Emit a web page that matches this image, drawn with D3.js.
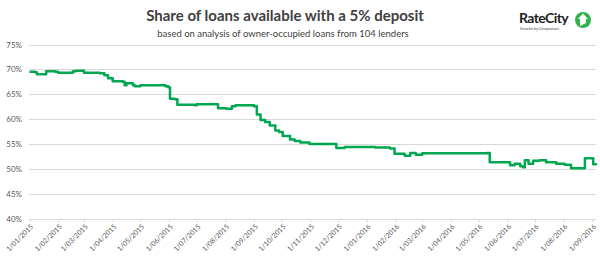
<!DOCTYPE html>
<html>
<head>
<meta charset="utf-8">
<title>Share of loans available with a 5% deposit</title>
<script src="https://cdn.jsdelivr.net/npm/d3@7"></script>
<style>
  body { margin: 0; background: #fff; }
  text { font-family: Lato, "Open Sans", sans-serif; }
</style>
</head>
<body>
<div id="chart"></div>
<script>
  const width = 600
  const height = 263

  // data
  const dates = [
    "2015-01-01", "2015-01-07", "2015-01-09", "2015-01-17", "2015-01-19", "2015-01-29",
    "2015-02-01", "2015-02-14", "2015-02-17", "2015-02-20", "2015-02-27", "2015-03-01",
    "2015-03-18", "2015-03-23", "2015-03-27", "2015-04-01", "2015-04-12", "2015-04-14",
    "2015-04-16", "2015-04-23", "2015-04-25", "2015-05-01", "2015-05-25", "2015-05-28",
    "2015-05-31", "2015-06-02", "2015-06-07", "2015-06-10", "2015-06-29", "2015-07-01",
    "2015-07-10", "2015-07-22", "2015-07-24", "2015-08-02", "2015-08-08", "2015-08-12",
    "2015-09-01", "2015-09-04", "2015-09-08", "2015-09-13", "2015-09-18", "2015-09-24",
    "2015-09-28", "2015-10-02", "2015-10-10", "2015-10-15", "2015-10-21", "2015-10-31",
    "2015-11-22", "2015-11-29", "2015-12-08", "2016-01-10", "2016-01-26", "2016-01-31",
    "2016-02-11", "2016-02-17", "2016-02-23", "2016-02-28", "2016-03-01", "2016-05-08",
    "2016-05-10", "2016-05-13", "2016-05-29", "2016-06-04", "2016-06-09", "2016-06-15",
    "2016-06-18", "2016-06-20", "2016-06-24", "2016-06-29", "2016-07-06", "2016-07-13",
    "2016-07-24", "2016-08-02", "2016-08-09", "2016-08-22", "2016-08-24", "2016-08-31",
    "2016-09-02", "2016-09-05"
  ]
  const shares = [
    69.5, 69.4, 69.0, 69.0, 69.6, 69.5,
    69.3, 69.3, 69.6, 69.7, 69.7, 69.3,
    69.2, 68.8, 68.2, 67.6, 67.5, 66.8,
    67.2, 66.8, 66.6, 66.8, 66.8, 66.6,
    66.4, 64.1, 64.0, 62.9, 62.8, 63.0,
    63.0, 63.0, 62.2, 62.1, 62.6, 62.8,
    62.6, 60.9, 59.8, 59.4, 58.7, 57.7,
    57.4, 56.6, 55.9, 55.6, 55.3, 55.0,
    55.0, 54.2, 54.4, 54.3, 54.1, 53.0,
    52.6, 53.2, 52.8, 52.8, 53.1, 53.1,
    53.2, 51.3, 51.3, 50.7, 51.0, 50.5,
    50.3, 51.7, 51.0, 51.6, 51.7, 51.3,
    51.0, 50.8, 50.1, 50.1, 52.1, 52.1,
    50.9, 50.7
  ]
  const yTicks = [40, 45, 50, 55, 60, 65, 70, 75]
  const monthTicks = [
    "2015-01-01", "2015-02-01", "2015-03-01", "2015-04-01", "2015-05-01", "2015-06-01",
    "2015-07-01", "2015-08-01", "2015-09-01", "2015-10-01", "2015-11-01", "2015-12-01",
    "2016-01-01", "2016-02-01", "2016-03-01", "2016-04-01", "2016-05-01", "2016-06-01",
    "2016-07-01", "2016-08-01", "2016-09-01"
  ]

  const parse = d3.utcParse("%Y-%m-%d")
  const series = dates.map((d, i) => ({ date: parse(d), value: shares[i] }))

  let x = d3.scaleUtc()
    .domain([parse("2015-01-01"), parse("2016-09-01")])
    .range([29.5, 592.3])
  let y = d3.scaleLinear()
    .domain([40, 75])
    .range([218.5, 44.5])

  let svg = d3.select("#chart")
    .append("svg")
    .attr("width", width)
    .attr("height", height)

  // title
  svg.append("text")
    .attr("x", 285).attr("y", 21)
    .attr("text-anchor", "middle")
    .attr("font-size", 15).attr("font-weight", "bold")
    .attr("fill", "#404040")
    .text("Share of loans available with a 5% deposit")
  svg.append("text")
    .attr("x", 283).attr("y", 37)
    .attr("text-anchor", "middle")
    .attr("font-size", 9.5)
    .attr("fill", "#404040")
    .text("based on analysis of owner-occupied loans from 104 lenders")

  // logo
  let logo = svg.append("g")
  logo.append("text")
    .attr("x", 519).attr("y", 23)
    .attr("font-size", 14).attr("font-weight", "bold")
    .attr("fill", "#222")
    .attr("letter-spacing", -0.6)
    .text("RateCity")
  logo.append("text")
    .attr("x", 520).attr("y", 30)
    .attr("font-size", 4).attr("font-style", "italic")
    .attr("fill", "#444")
    .text("Smarter by Comparison")
  logo.append("circle")
    .attr("cx", 583).attr("cy", 20).attr("r", 8)
    .attr("fill", "#2fb34a")
  logo.append("path")
    .attr("d", "M580,26 L580,19 L578,19 L583,13.5 L588,19 L586,19 L586,23 Z")
    .attr("fill", "#fff")

  // grid + y labels
  svg.append("g")
    .selectAll("line")
    .data(yTicks)
    .enter().append("line")
    .attr("x1", 29).attr("x2", 596)
    .attr("y1", d => Math.round(y(d)) + 0.5)
    .attr("y2", d => Math.round(y(d)) + 0.5)
    .attr("stroke", "#d9d9d9")
    .attr("stroke-width", 1)

  svg.append("g")
    .selectAll("text")
    .data(yTicks)
    .enter().append("text")
    .attr("x", 22)
    .attr("y", d => y(d) + 3)
    .attr("text-anchor", "end")
    .attr("font-size", 8)
    .attr("fill", "#595959")
    .text(d => d + "%")

  // x axis
  const tickDates = monthTicks.map(parse)
  const fmt = d => d3.utcFormat("%-d/%m/%Y")(d)
  let xAxis = svg.append("g")
    .attr("transform", "translate(0," + (Math.round(y(40)) + 0.5) + ")")
    .call(d3.axisBottom(x).tickValues(tickDates).tickSize(3).tickFormat(fmt))
  xAxis.select(".domain").remove()
  xAxis.selectAll(".tick line").attr("stroke", "#d9d9d9")
  xAxis.selectAll(".tick text")
    .attr("font-family", "Lato, 'Open Sans', sans-serif")
    .attr("font-size", 7)
    .attr("fill", "#595959")
    .attr("text-anchor", "end")
    .attr("x", 0).attr("y", 0)
    .attr("dy", "0.35em")
    .attr("transform", "translate(2,6) rotate(-45)")

  // line
  let line = d3.line()
    .x(d => x(d.date))
    .y(d => y(d.value))
    .curve(d3.curveStepAfter)

  svg.append("path")
    .datum(series)
    .attr("d", line)
    .attr("fill", "none")
    .attr("stroke", "#00a650")
    .attr("stroke-width", 2.5)
    .attr("stroke-linejoin", "round")
</script>
</body>
</html>
